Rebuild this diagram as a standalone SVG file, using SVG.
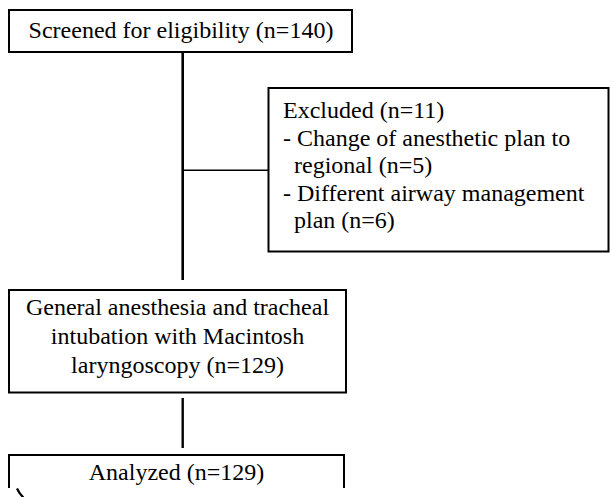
<svg xmlns="http://www.w3.org/2000/svg" width="613" height="497" viewBox="0 0 613 497">
<style>
.box{fill:#fff;stroke:#000;stroke-width:2}
.ln{stroke:#000;fill:none}
text{font-family:"Liberation Serif","Times New Roman",serif;font-size:24px;fill:#000}
.c{text-anchor:middle}
</style>
<rect width="613" height="497" fill="#fff"/>
<g id="connectors">
<line class="ln" x1="182.7" y1="52" x2="182.7" y2="280" stroke-width="2.6"/>
<line class="ln" x1="182.7" y1="170.3" x2="268" y2="170.3" stroke-width="1.6"/>
<line class="ln" x1="182.7" y1="398" x2="182.7" y2="448" stroke-width="2.4"/>
</g>
<g id="screened">
<rect class="box" x="9" y="10" width="343" height="42"/>
<text class="c" x="181" y="38">Screened for eligibility (n=140)</text>
</g>
<g id="excluded">
<rect class="box" x="268.5" y="88" width="340" height="163.5"/>
<text x="283" y="118">Excluded (n=11)</text>
<text x="283" y="145.5">- Change of anesthetic plan to</text>
<text x="294" y="173">regional (n=5)</text>
<text x="283" y="201">- Different airway management</text>
<text x="294" y="228">plan (n=6)</text>
</g>
<g id="general">
<rect class="box" x="9" y="290" width="337" height="102.5"/>
<text class="c" x="177.5" y="315">General anesthesia and tracheal</text>
<text class="c" x="177.5" y="344">intubation with Macintosh</text>
<text class="c" x="177.5" y="373">laryngoscopy (n=129)</text>
</g>
<g id="analyzed">
<path class="ln" d="M9,488 V455 H344 V488" stroke-width="2"/>
<text class="c" x="176.5" y="480">Analyzed (n=129)</text>
</g>
<path class="ln" d="M17,488.5 Q19.5,494 23.5,497.5" stroke-width="2.2"/>
</svg>
